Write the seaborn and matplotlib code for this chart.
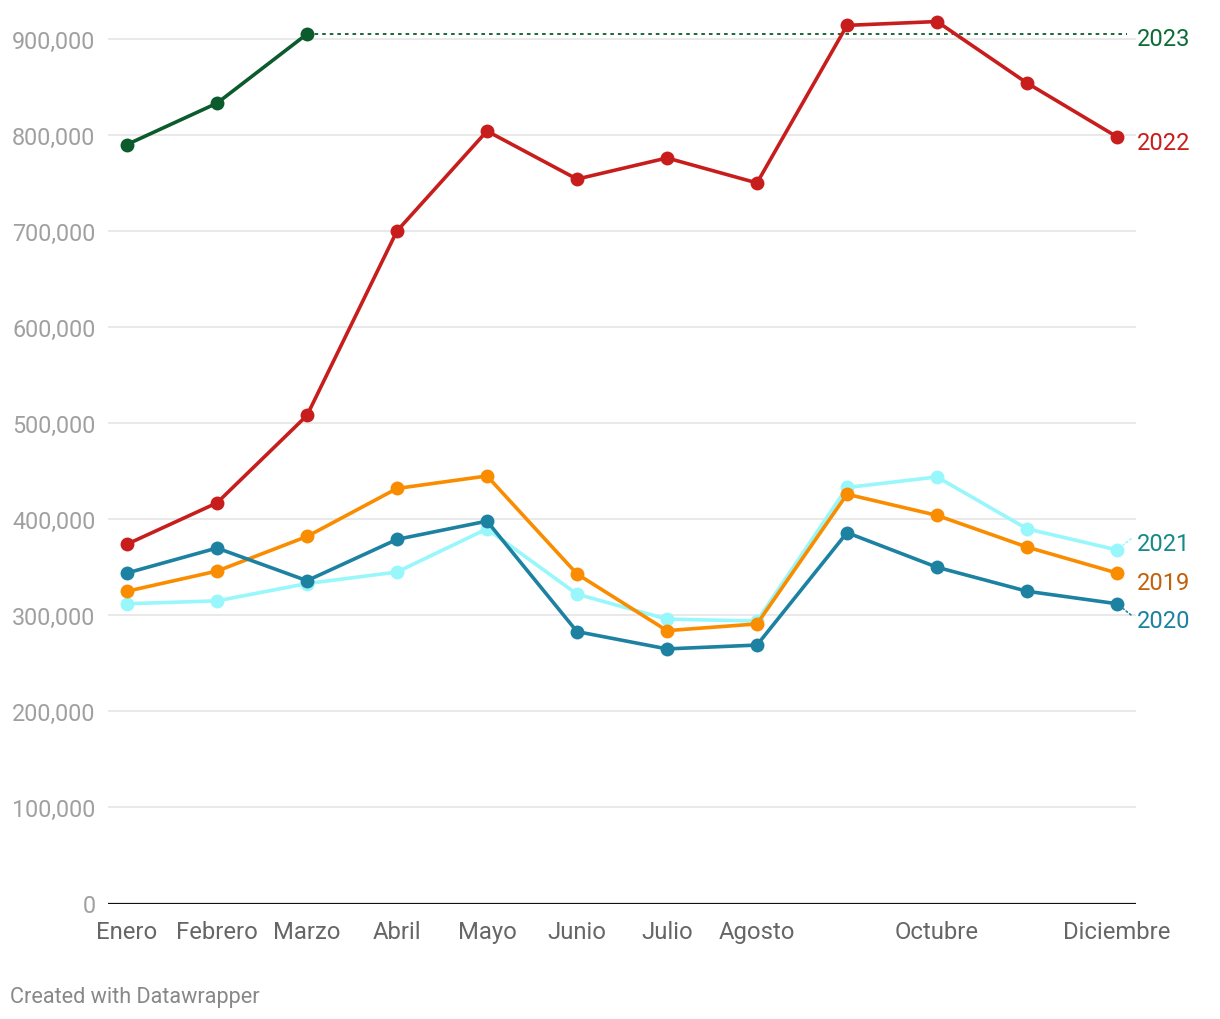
import pandas as pd
import seaborn as sns
import matplotlib.pyplot as plt
import numpy as np

# month labels (Sep and Nov have no label in the original)
meses = ['Enero', 'Febrero', 'Marzo', 'Abril', 'Mayo', 'Junio', 'Julio', 'Agosto',
         'Septiembre', 'Octubre', 'Noviembre', 'Diciembre']
etiquetas_x = ['Enero', 'Febrero', 'Marzo', 'Abril', 'Mayo', 'Junio', 'Julio', 'Agosto',
               '', 'Octubre', '', 'Diciembre']

#values
v2019 = [325000, 346000, 382000, 432000, 445000, 343000, 284000, 291000, 426000, 404000, 371000, 344000]
v2020 = [344000, 370000, 336000, 379000, 398000, 283000, 265000, 269000, 386000, 350000, 325000, 312000]
v2021 = [312000, 315000, 333000, 345000, 390000, 322000, 296000, 294000, 433000, 444000, 390000, 368000]
v2022 = [374000, 417000, 508000, 700000, 804000, 754000, 776000, 750000, 914000, 918000, 854000, 798000]
v2023 = [790000, 833000, 905000]

anios = ['2021', '2019', '2020', '2022', '2023']  # drawing order
valores = {'2019': v2019, '2020': v2020, '2021': v2021, '2022': v2022, '2023': v2023}
colores = {'2019': '#fa8c00', '2020': '#1d81a2', '2021': '#98f7fb', '2022': '#c71e1d', '2023': '#0b5b2c'}
colores_txt = {'2019': '#c2600c', '2020': '#1d81a2', '2021': '#16898a', '2022': '#c71e1d', '2023': '#0d6b35'}

filas = []
for a in anios:
  for i, v in enumerate(valores[a]):
    filas.append({'mes': i, 'valor': v, 'anio': a})
df = pd.DataFrame(filas)

sns.set_style('white')
plt.rcParams['font.family'] = ['Roboto', 'DejaVu Sans']

fig = plt.figure(figsize=(12.2, 10.2), dpi=100)
ax = fig.add_axes([108/1220, 1-904.5/1020, (1136-108)/1220, (904.5-11)/1020])
ax.set_xlim(-0.211, len(meses) - 1 + 0.211)
ax.set_ylim(0, 930000)

# gridlines
for y in range(100000, 1000000, 100000):
  ax.axhline(y, color='#e3e3e3', lw=1.1, zorder=0)
ax.axhline(0, color='#111111', lw=1.6, zorder=1)

# 2023 dotted continuation at its last value
ult = len(v2023) - 1
ax.plot([ult, ax.get_xlim()[1] - 0.1], [v2023[-1], v2023[-1]], ls=(0, (2, 2.2)),
        color=colores['2023'], lw=1.3, zorder=2)

sns.lineplot(data=df, x='mes', y='valor', hue='anio', hue_order=anios, palette=colores,
             marker='o', markersize=10, markeredgewidth=0, linewidth=2.6, legend=False,
             sort=False, ax=ax, zorder=3)

ax.set_xlim(-0.211, len(meses) - 1 + 0.211)
ax.set_ylim(0, 930000)
ax.set_xticks(np.arange(len(meses)))
ax.set_xticklabels(etiquetas_x, fontsize=17.2, color='#666666')
ax.set_yticks(range(0, 1000000, 100000))
ax.set_yticklabels([f'{t:,}' for t in range(0, 1000000, 100000)], fontsize=16.8, color='#a0a0a0')
ax.tick_params(axis='y', length=0, pad=9)
ax.tick_params(axis='x', length=0, pad=12)
ax.set_xlabel('')
ax.set_ylabel('')
for s in ax.spines.values():
  s.set_visible(False)

# end labels (offsets in pixels to avoid overlaps)
desplaz = {'2023': -4, '2022': -6, '2021': 6, '2019': -9, '2020': -17}
for a in anios:
  serie = valores[a]
  ax.annotate(a, xy=(len(meses) - 1, serie[-1]), xytext=(20 * 0.72, desplaz[a] * 0.72),
              textcoords='offset points', fontsize=17, color=colores_txt[a],
              va='center', ha='left', annotation_clip=False)

# small dotted connectors for 2021 and 2020
for a, dy in [('2021', 1), ('2020', -1)]:
  ax.annotate('', xy=(len(meses) - 1, valores[a][-1]), xytext=(10, dy * 8), textcoords='offset points',
              arrowprops=dict(arrowstyle='-', ls=':', color=colores[a], lw=1.2, shrinkA=0, shrinkB=6),
              annotation_clip=False)

fig.text(10/1220, 1-998/1020, 'Created with Datawrapper', fontsize=15.6, color='#888888', va='center', ha='left')

plt.savefig('out.png', dpi=100)
